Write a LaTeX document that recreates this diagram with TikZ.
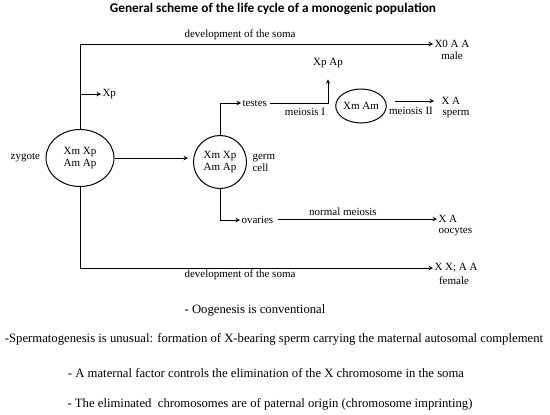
\documentclass[tikz,border=0pt]{standalone}
\usepackage{fontspec}
\setmainfont{Liberation Serif}
\newfontfamily\headfont{Carlito}
\usetikzlibrary{arrows,shapes.geometric,positioning}

\begin{document}
\begin{tikzpicture}[x=1pt, y=-1pt, >=stealth, line width=1pt,
    cell/.style={ellipse, draw, align=center, inner sep=0pt, font=\fontsize{11}{12.5}\selectfont},
    lbl/.style={inner sep=1pt, font=\fontsize{11}{12}\selectfont},
    note/.style={inner sep=0pt, font=\fontsize{12.7}{14}\selectfont}]
            \useasboundingbox (0,0) rectangle (550,415);
            % Nodes
            \node[font=\headfont\bfseries\fontsize{13.3}{15}\selectfont] (title) at (273,9) {General scheme of the life cycle of a monogenic population};
            \node[cell, minimum width=68, minimum height=57] (zyg) at (80,158) {Xm Xp\\Am Ap};
            \node[lbl, left=4pt of zyg] (zyglbl) {zygote};
            \node[cell, minimum size=53] (germ) at (220,162) {Xm Xp\\Am Ap};
            \node[lbl, anchor=west, align=left] (germlbl) at (251,163) {germ\\cell};
            \node[cell, minimum width=46, minimum height=34] (xmam) at (361,106) {Xm Am};
            \node[lbl, anchor=west] (xp) at (101,94) {Xp};
            \node[lbl, anchor=west] (male) at (433,44) {X0 A A};
            \node[lbl] (malelbl) at (452,56) {male};
            \node[lbl, anchor=west] (testes) at (241,103) {testes};
            \node[lbl] (xpap) at (328,63) {Xp Ap};
            \node[lbl] (mei1) at (305,112) {meiosis I};
            \node[lbl, anchor=west] (sperm) at (440,101) {X A};
            \node[lbl, anchor=west] (spermlbl) at (441,114) {sperm};
            \node[lbl] (mei2) at (411,111) {meiosis II};
            \node[lbl, anchor=west] (ovaries) at (240,220) {ovaries};
            \node[lbl] (nmei) at (343,212) {normal meiosis};
            \node[lbl, anchor=west] (oocyte) at (437,219) {X A};
            \node[lbl, anchor=west] (oocytelbl) at (437,232) {oocytes};
            \node[lbl, anchor=west] (female) at (433,268) {X X; A A};
            \node[lbl] (femalelbl) at (454,281) {female};
            \node[lbl] (soma1) at (240,35) {development of the soma};
            \node[lbl] (soma2) at (240,275) {development of the soma};
            \node[note] (n1) at (255,310) {- Oogenesis is conventional};
            \node[note] (n2) at (274,339) {-Spermatogenesis is unusual: formation of X-bearing sperm carrying the maternal autosomal complement};
            \node[note] (n3) at (266,373) {- A maternal factor controls the elimination of the X chromosome in the soma};
            \node[note] (n4) at (270,404) {- The eliminated\ \ chromosomes are of paternal origin (chromosome imprinting)};
            \coordinate (xpfork) at (zyg.north |- xp.west);
            % Edges
            \draw[->] (zyg.north) |- (male.west);
            \draw[->] (xpfork) -- (xp.west);
            \draw[->, shorten >=5pt] (zyg.east) -- (zyg.east -| germ.west);
            \draw[->] (germ.north) |- (testes.west);
            \draw[->, shorten <=2pt, shorten >=10pt] (testes.east) -| (xpap.south);
            \draw[->, shorten <=8pt, shorten >=6pt] (xmam.east |- sperm.west) -- (sperm.west);
            \draw[->] (germ.south) |- (ovaries.west);
            \draw[->, shorten <=3pt] (ovaries.east |- oocyte.west) -- (oocyte.west);
            \draw[->] (zyg.south) |- (female.west);
\end{tikzpicture}
\end{document}
